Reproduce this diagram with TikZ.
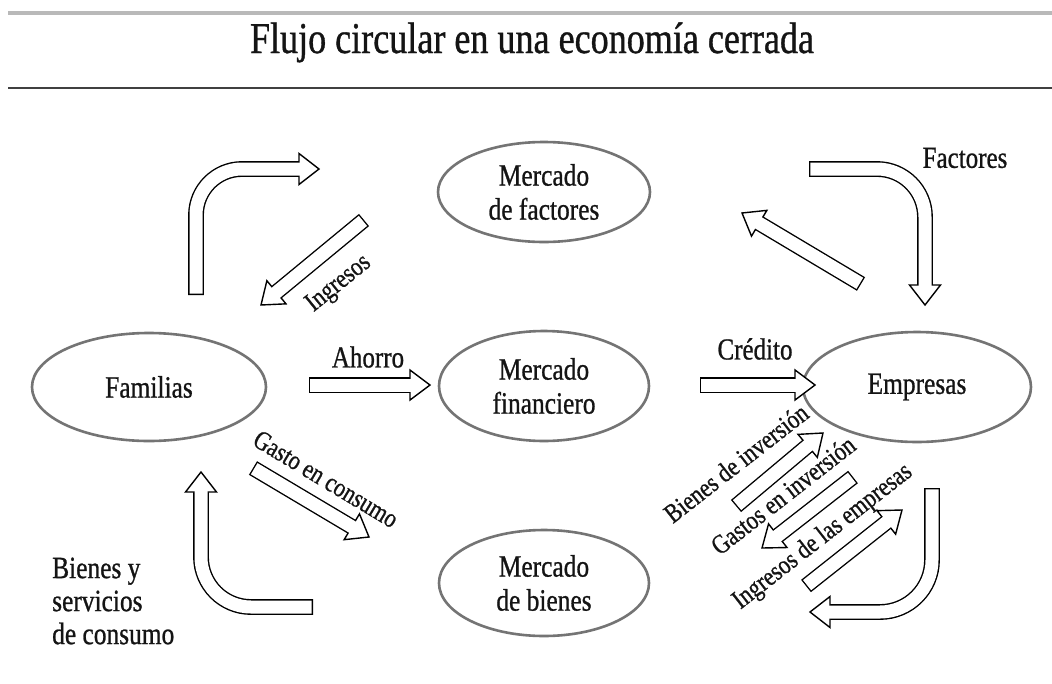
\documentclass[tikz,border=0pt]{standalone}
\usepackage{fontspec}
\setmainfont{Liberation Serif}[FakeStretch=0.82, FakeBold=0.8]
\usetikzlibrary{calc,shapes.geometric}
\definecolor{ellgray}{HTML}{747474}
\definecolor{ink}{HTML}{141414}
\tikzset{
  market/.style={ellipse, draw=ellgray, line width=2.6pt, fill=white, align=center, text=ink, font=\fontsize{31}{34}\selectfont, inner sep=0pt},
  lbl/.style={text=ink, font=\fontsize{30.5}{34}\selectfont, inner sep=0pt},
  rlbl/.style={text=ink, font=\fontsize{27}{31}\selectfont, inner sep=0pt},
  outerline/.style={draw=black, line width=15.8pt},
  innerline/.style={draw=white, line width=13pt},
  headshape/.style={draw=black, fill=white, line width=1.4pt, line join=miter},
}
% straight block arrow: tail, tip
\newcommand{\straightflow}[2]{%
  \coordinate (sa) at #1; \coordinate (sp) at #2;
  \coordinate (sb) at ($(sp)!20pt!(sa)$);
  \draw[outerline] (sa) -- (sb);
  \draw[headshape] ($(sb)!15pt!90:(sp)$) -- (sp) -- ($(sb)!15pt!-90:(sp)$) -- cycle;
  \draw[innerline, shorten <=1.4pt] (sa) -- ($(sb)!3pt!(sp)$);
}
% bent block arrow: tail, corner, tip, radius
\newcommand{\bentflow}[4]{%
  \coordinate (ba) at #1; \coordinate (bk) at #2; \coordinate (bp) at #3;
  \coordinate (bb) at ($(bp)!20pt!(bk)$);
  \draw[outerline, rounded corners=#4] (ba) -- (bk) -- (bb);
  \draw[headshape] ($(bb)!15.5pt!90:(bp)$) -- (bp) -- ($(bb)!15.5pt!-90:(bp)$) -- cycle;
  \draw[innerline, rounded corners=#4, shorten <=1.4pt] (ba) -- (bk) -- ($(bb)!3pt!(bp)$);
}
\begin{document}
\begin{tikzpicture}[x=1pt,y=-1pt]
\useasboundingbox[fill=white] (0,0) rectangle (1052,683);
% header
\coordinate (tl1) at (8,13); \coordinate (tl2) at (1052,13);
\draw[line width=3.5pt, gray!55] (tl1) -- (tl2);
\coordinate (bl1) at (8,88); \coordinate (bl2) at (1052,88);
\draw[line width=2.6pt, black!75] (bl1) -- (bl2);
\node[text=ink, font=\fontsize{44}{50}\selectfont, anchor=base, inner sep=0pt] (title) at (532,53) {Flujo circular en una economía cerrada};

% markets
\node[market, minimum width=212pt, minimum height=100pt] (factores) at (544,192) {Mercado\\de factores};
\node[market, minimum width=234pt, minimum height=108pt] (familias) at (149,387) {Familias};
\node[market, minimum width=210pt, minimum height=110pt] (financiero) at (544,386) {Mercado\\financiero};
\node[market, minimum width=228pt, minimum height=110pt] (empresas) at (917,387) {Empresas};
\node[market, minimum width=210pt, minimum height=106pt] (bienes) at (544,583) {Mercado\\de bienes};

% flows
\bentflow{(196,295)}{(196,169)}{(319,169)}{46pt}
\straightflow{(364,220)}{(261,305)}
\bentflow{(809,169)}{(925,169)}{(925,305)}{48pt}
\straightflow{(861,284)}{(742,213)}
\straightflow{(309,385)}{(430,385)}
\straightflow{(700,385)}{(815,385)}
\straightflow{(253,468)}{(369,537)}
\bentflow{(313,607)}{(201,607)}{(201,472)}{50pt}
\straightflow{(736,506)}{(823,433)}
\straightflow{(853,477)}{(762,548)}
\straightflow{(806,586)}{(902,510)}
\bentflow{(932,488)}{(932,612)}{(810,612)}{52pt}

% labels
\node[rlbl, rotate=39] (lingresos) at (339,284) {Ingresos};
\node[lbl] (lfactores) at (965,158) {Factores};
\node[lbl] (lahorro) at (368,357) {Ahorro};
\node[lbl] (lcredito) at (755,349) {Crédito};
\node[rlbl, rotate=-31] (lgasto) at (326,479) {Gasto en consumo};
\node[rlbl, rotate=38] (lbinv) at (736,463) {Bienes de inversión};
\node[rlbl, rotate=38] (lginv) at (783,495) {Gastos en inversión};
\node[rlbl, rotate=38] (lingemp) at (823,537) {Ingresos de las empresas};
\node[text=ink, font=\fontsize{31}{33}\selectfont, align=left, anchor=west, inner sep=0pt] (lbys) at (52,601) {Bienes y\\servicios\\de consumo};
\end{tikzpicture}
\end{document}
